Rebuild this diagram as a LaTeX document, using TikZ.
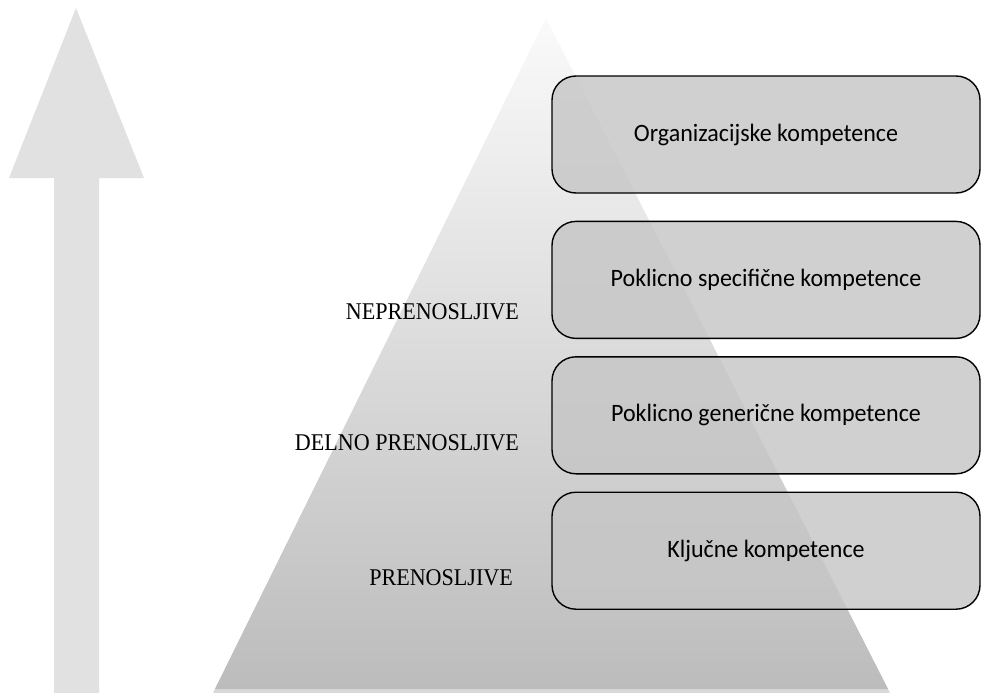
\documentclass[tikz,border=0pt]{standalone}
\usepackage{fontspec}
\setmainfont{Liberation Serif}
\newfontfamily\boxfont[FakeStretch=0.96]{Carlito}
\newfontfamily\labelfont[FakeStretch=0.92]{Liberation Serif}
\usetikzlibrary{positioning}
\definecolor{arrowgray}{HTML}{E1E1E1}
\definecolor{pyrtop}{HTML}{FAFAFA}
\definecolor{pyrbottom}{HTML}{BCBCBC}
\definecolor{boxgray}{HTML}{C6C6C6}

\begin{document}
\begin{tikzpicture}[x=1pt,y=-1pt,
  level/.style={draw=black,line width=1.4pt,fill=boxgray,fill opacity=0.82,text opacity=1,
    rounded corners=24pt,minimum width=428pt,minimum height=117pt,
    font=\boxfont\fontsize{25}{28}\selectfont},
  side/.style={anchor=east,inner sep=0pt,font=\labelfont\fontsize{24}{28}\selectfont}]
\useasboundingbox (0,0) rectangle (982,693);
% arrow on the left
\fill[arrowgray] (54,693) -- (54,178) -- (9,178) -- (76,8) -- (144,178) -- (99,178) -- (99,693) -- cycle;
% pyramid
\fill[black,opacity=0.15] (213,693) -- (546,20) -- (890,693) -- cycle;
\shade[top color=pyrtop,bottom color=pyrbottom] (215,689) -- (546,18) -- (888,689) -- cycle;
% levels
\node[level] (org) at (766,134.5) {Organizacijske kompetence};
\node[level,below=27pt of org] (spec) {Poklicno specifi\v{c}ne kompetence};
\node[level,below=17pt of spec] (gen) {Poklicno generi\v{c}ne kompetence};
\node[level,below=17pt of gen] (klj) {Klju\v{c}ne kompetence};
% labels
\node[side] (nepren) at (519,312) {NEPRENOSLJIVE};
\node[side] (delno) at (519,443) {DELNO PRENOSLJIVE};
\node[side] (pren) at (513,578) {PRENOSLJIVE};
\end{tikzpicture}
\end{document}
